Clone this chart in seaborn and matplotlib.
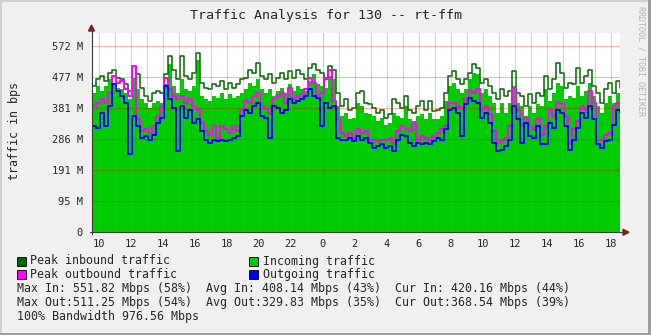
import numpy as np
import matplotlib
matplotlib.use("Agg")
import matplotlib.pyplot as plt
import seaborn as sns
from matplotlib.lines import Line2D
from matplotlib.patches import Polygon, Rectangle

# Traffic samples in M (2^20) bits per second, 15-minute steps
peak_in = [
    449, 470, 480, 465, 490, 500, 475, 470, 454, 434,
    511, 485, 444, 418, 403, 429, 434, 429, 485, 540,
    500, 470, 540, 480, 470, 490, 551.82, 459, 444, 439,
    454, 449, 465, 439, 459, 444, 454, 470, 475, 500,
    490, 521, 480, 470, 485, 459, 475, 490, 470, 495,
    475, 500, 485, 470, 506, 516, 500, 490, 475, 511,
    500, 429, 388, 408, 377, 382, 429, 434, 398, 393,
    382, 367, 377, 352, 362, 408, 398, 382, 418, 377,
    367, 388, 403, 377, 403, 372, 377, 382, 429, 480,
    495, 470, 454, 470, 490, 516, 506, 459, 470, 449,
    429, 408, 439, 418, 434, 495, 429, 418, 388, 424,
    398, 429, 418, 480, 439, 470, 521, 490, 444, 459,
    454, 506, 459, 480, 500, 449, 429, 398, 439, 459,
    429, 465, 444]

avg_in = [
    429, 449, 434, 449, 470, 459, 444, 439, 429, 408,
    475, 439, 408, 398, 382, 398, 403, 398, 454, 516,
    449, 429, 470, 439, 434, 449, 530, 418, 408, 403,
    418, 413, 429, 408, 424, 413, 418, 429, 439, 459,
    449, 470, 439, 429, 439, 418, 434, 444, 429, 454,
    434, 449, 439, 434, 465, 485, 454, 449, 444, 480,
    470, 388, 357, 367, 347, 352, 398, 388, 367, 362,
    357, 341, 352, 331, 336, 367, 357, 352, 388, 347,
    341, 357, 362, 347, 367, 347, 347, 357, 403, 449,
    459, 439, 429, 439, 470, 490, 485, 429, 439, 418,
    398, 367, 398, 367, 398, 449, 398, 388, 357, 388,
    367, 393, 388, 439, 403, 429, 459, 449, 408, 418,
    413, 449, 418, 434, 459, 418, 388, 367, 398, 418,
    398, 429, 420.16]

peak_out = [
    388, 398, 408, 398, 429, 480, 459, 465, 439, 418,
    511.25, 347, 311, 316, 306, 326, 357, 388, 475, 439,
    418, 408, 418, 398, 408, 388, 377, 336, 311, 300,
    326, 290, 326, 316, 306, 326, 311, 377, 403, 398,
    418, 429, 388, 382, 367, 408, 418, 429, 398, 444,
    408, 418, 424, 439, 475, 459, 418, 429, 470, 500,
    403, 347, 306, 295, 306, 290, 316, 306, 311, 285,
    285, 280, 285, 285, 290, 275, 311, 326, 316, 311,
    336, 285, 295, 290, 285, 295, 306, 316, 326, 398,
    398, 388, 382, 408, 434, 429, 439, 377, 388, 362,
    311, 275, 280, 290, 326, 439, 377, 331, 352, 326,
    316, 347, 300, 326, 377, 357, 398, 393, 357, 275,
    316, 341, 388, 377, 434, 398, 285, 285, 300, 306,
    388, 398, 377]

avg_out = [
    326, 321, 367, 326, 388, 454, 434, 418, 398, 239,
    357, 326, 290, 295, 285, 300, 336, 352, 449, 408,
    382, 249, 388, 352, 377, 336, 347, 311, 285, 275,
    285, 280, 285, 280, 285, 290, 295, 357, 377, 367,
    388, 398, 357, 352, 290, 388, 382, 367, 377, 408,
    398, 403, 408, 418, 439, 418, 413, 326, 398, 382,
    388, 290, 285, 285, 290, 280, 295, 285, 290, 275,
    259, 265, 270, 259, 265, 249, 285, 300, 295, 275,
    265, 275, 270, 275, 270, 280, 290, 285, 316, 377,
    382, 367, 295, 393, 413, 403, 398, 352, 367, 336,
    275, 249, 254, 265, 285, 388, 347, 275, 336, 295,
    290, 326, 270, 270, 336, 321, 377, 367, 326, 254,
    285, 321, 367, 352, 388, 347, 270, 259, 280, 285,
    331, 377, 368.54]

ytick_values = [0, 95.37, 190.73, 286.10, 381.47, 476.84, 572.20]
ytick_labels = ["0", "95 M", "191 M", "286 M", "381 M", "477 M", "572 M"]
xtick_hours = list(range(10, 43, 2))
xtick_labels = [str(h % 24) for h in xtick_hours]

legend_rows = [
    ("Peak inbound traffic", "#006600", "Incoming traffic", "#00CC00"),
    ("Peak outbound traffic", "#FF00FF", "Outgoing traffic", "#0000FF"),
]
stat_lines = [
    "Max In: 551.82 Mbps (58%)  Avg In: 408.14 Mbps (43%)  Cur In: 420.16 Mbps (44%)",
    "Max Out:511.25 Mbps (54%)  Avg Out:329.83 Mbps (35%)  Cur Out:368.54 Mbps (39%)",
    "100% Bandwidth 976.56 Mbps",
]

sns.set_style("white")
plt.rcParams["font.family"] = ["DejaVu Sans Mono"]

W, H = 651, 335
fig = plt.figure(figsize=(W / 100, H / 100), dpi=100, facecolor="#F0F0F0")


def fx(x):
    return x / W


def fy(y):
    return 1 - y / H


x0, x1, y0, y1 = 91.5, 620.0, 33.0, 232.3
ax = fig.add_axes([fx(x0), fy(y1), fx(x1) - fx(x0), fy(y0) - fy(y1)])
ax.set_facecolor("white")

start_hour, step_hours = 9.5625, 0.25
hours = start_hour + step_hours * np.arange(len(avg_in))

ax.fill_between(hours, 0, avg_in, step="post", color="#00CC00", lw=0, zorder=1)
sns.lineplot(x=hours, y=peak_in, drawstyle="steps-post", color="#006600",
             lw=1.1, estimator=None, ax=ax, zorder=2)
sns.lineplot(x=hours, y=peak_out, drawstyle="steps-post", color="#FF00FF",
             lw=1.5, estimator=None, ax=ax, zorder=3)
sns.lineplot(x=hours, y=avg_out, drawstyle="steps-post", color="#0000FF",
             lw=1.4, estimator=None, ax=ax, zorder=4)

ymax = (y1 - y0) * 572.20 / (y1 - 46.0)
ax.set_xlim(start_hour, start_hour + (x1 - x0) / 16.0)
ax.set_ylim(0, ymax)

# hourly minor grid and major grid (midnight and value lines), drawn over the data
for h in range(10, 43):
    if h == 24:
        continue
    ax.axvline(h, color=(0.55, 0.55, 0.55, 0.35), lw=0.8, zorder=5)
ax.axvline(24, color=(1, 0, 0, 0.3), lw=0.8, zorder=5)
for v in ytick_values[1:]:
    ax.axhline(v, color=(1, 0, 0, 0.3), lw=0.8, zorder=5)

ax.set_xticks(xtick_hours)
ax.set_xticklabels(xtick_labels)
ax.set_yticks(ytick_values)
ax.set_yticklabels(ytick_labels)
ax.tick_params(axis="y", length=2.2, width=0.8, color=(1, 0, 0, 0.4), pad=4,
               labelsize=7.5)
ax.tick_params(axis="x", length=0, pad=5, labelsize=7.5)
ax.set_xlabel("")
ax.set_ylabel("")
for s in ax.spines.values():
    s.set_visible(False)

# axes lines with arrow heads
axis_col = "#3A3A3A"
arrow_col = "#7F1F1F"
fig.add_artist(Line2D([fx(x0), fx(x0)], [fy(y1 + 2), fy(29)], color=axis_col,
                      lw=0.8, transform=fig.transFigure))
fig.add_artist(Line2D([fx(x0 - 2), fx(624)], [fy(y1), fy(y1)], color=axis_col,
                      lw=0.8, transform=fig.transFigure))
fig.add_artist(Polygon([(fx(x0 - 3), fy(31)), (fx(x0 + 3), fy(31)), (fx(x0), fy(25))],
                       closed=True, color=arrow_col, transform=fig.transFigure))
fig.add_artist(Polygon([(fx(623), fy(y1 - 3)), (fx(623), fy(y1 + 3)), (fx(629), fy(y1))],
                       closed=True, color=arrow_col, transform=fig.transFigure))

# frame shading
fig.add_artist(Rectangle((0, fy(2)), 1, fy(0) - fy(2), color="#CFCFCF",
                         transform=fig.transFigure, lw=0))
fig.add_artist(Rectangle((0, 0), fx(2), 1, color="#CFCFCF",
                         transform=fig.transFigure, lw=0))
fig.add_artist(Rectangle((fx(648), 0), fx(3), 1, color="#9E9E9E",
                         transform=fig.transFigure, lw=0))
fig.add_artist(Rectangle((0, 0), 1, 1 - fy(2) + 0.0, color="#9E9E9E",
                         transform=fig.transFigure, lw=0))

fig.text(fx(326), fy(16), "Traffic Analysis for 130 -- rt-ffm", ha="center",
         va="center", fontsize=9.6)
fig.text(fx(15), fy(131), "traffic in bps", rotation=90, ha="center",
         va="center", fontsize=8.4)
fig.text(fx(641), fy(6), "RRDTOOL / TOBI OETIKER", rotation=270, ha="center",
         va="top", fontsize=6, color="#B4B4B4")

row_y = [261, 274.5]
for (l1, c1, l2, c2), y in zip(legend_rows, row_y):
    for bx, tx, lab, col in ((16.5, 30, l1, c1), (248.5, 263, l2, c2)):
        fig.add_artist(Rectangle((fx(bx), fy(y + 4.5)), fx(9), fy(0) - fy(9),
                                 facecolor=col, edgecolor="black", lw=0.6,
                                 transform=fig.transFigure))
        fig.text(fx(tx), fy(y), lab, ha="left", va="center", fontsize=8.4)

for line, y in zip(stat_lines, [288.5, 302.5, 316.5]):
    fig.text(fx(17), fy(y), line, ha="left", va="center", fontsize=8.4)

fig.savefig("out.png", dpi=100, facecolor=fig.get_facecolor())
